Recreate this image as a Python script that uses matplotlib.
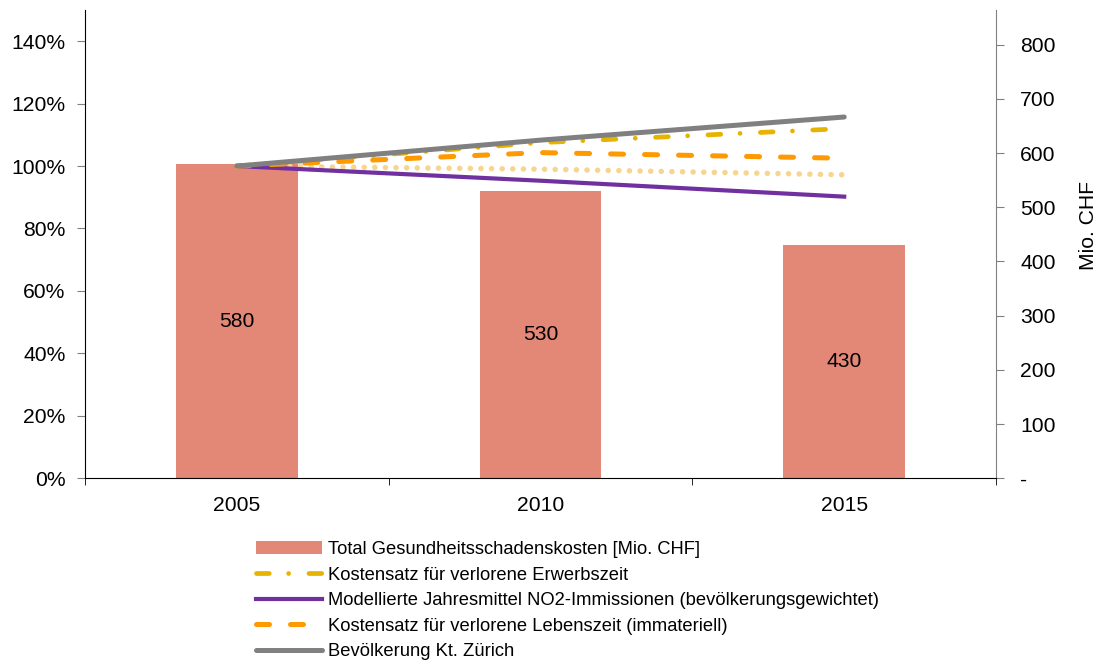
import matplotlib
matplotlib.use('Agg')
import matplotlib.pyplot as plt
import numpy as np
from matplotlib.ticker import FuncFormatter, FixedLocator

plt.rcParams['font.family'] = ['Liberation Sans', 'DejaVu Sans']

years = ['2005', '2010', '2015']
kosten = [580, 530, 430]  # Mio. CHF, rechte Achse

# Indexreihen (2005 = 100 %), linke Achse
erwerbszeit = [1.00, 1.075, 1.12]
no2 = [1.00, 0.953, 0.902]
lebenszeit = [1.00, 1.043, 1.025]
bevoelkerung = [1.00, 1.083, 1.157]
weitere = [1.00, 0.99, 0.972]

bar_label = 'Total Gesundheitsschadenskosten [Mio. CHF]'
line_labels = ['Kostensatz für verlorene Erwerbszeit',
               'Modellierte Jahresmittel NO2-Immissionen (bevölkerungsgewichtet)',
               'Kostensatz für verlorene Lebenszeit (immateriell)',
               'Bevölkerung Kt. Zürich']

x = np.arange(len(years))
fs = 15.2

fig = plt.figure(figsize=(11, 6.61), dpi=100)
ax = fig.add_axes([0.0773, 0.2764, 0.9055 - 0.0773, 0.985 - 0.2764])
ax2 = ax.twinx()

# Balken auf der rechten Achse, Linien darüber
bars = ax2.bar(x, kosten, 0.4, color='#E38777', label=bar_label)
ax2.bar_label(bars, label_type='center', fontsize=fs)
ax2.set_ylim(0, 864)
ax2.set_yticks(np.arange(0, 801, 100))
ax2.yaxis.set_major_formatter(FuncFormatter(lambda v, p: '-' if v == 0 else f'{v:.0f}'))
fig.text(1088 / 1100, 1 - 226 / 661, 'Mio. CHF', rotation=90, fontsize=fs,
         ha='center', va='center')
ax.set_zorder(ax2.get_zorder() + 1)
ax.patch.set_visible(False)

l1, = ax.plot(x, erwerbszeit, color='#E6B400', lw=3.4, dash_capstyle='round',
              dashes=(2.7, 4.1, 0.01, 4.3), label=line_labels[0])
ax.plot(x, weitere, color='#F7D591', lw=4.0, dash_capstyle='round',
        dashes=(0.01, 1.9), label='_nolegend_')
l2, = ax.plot(x, no2, color='#7030A0', lw=3.0, label=line_labels[1])
l3, = ax.plot(x, lebenszeit, color='#FF9900', lw=3.6, dash_capstyle='round',
              dashes=(2.6, 4.2), label=line_labels[2])
l4, = ax.plot(x, bevoelkerung, color='#808080', lw=3.6, solid_capstyle='round',
              label=line_labels[3])

ax.set_xlim(-0.5, 2.5)
ax.set_ylim(0, 1.5)
ax.set_yticks(np.arange(0, 1.41, 0.2))
ax.yaxis.set_major_formatter(FuncFormatter(lambda v, p: f'{v * 100:.0f}%'))
ax.set_xticks(x)
ax.set_xticklabels(years)
ax.xaxis.set_minor_locator(FixedLocator([-0.5, 0.5, 1.5, 2.5]))
ax.tick_params(axis='x', which='major', length=0, pad=13, labelsize=fs)
ax.tick_params(axis='x', which='minor', length=5, color='black', direction='out')
ax.tick_params(axis='y', length=6, color='#808080', labelsize=fs, pad=8)
ax2.tick_params(axis='y', length=5.5, color='#808080', labelsize=fs, pad=12)

for a in (ax, ax2):
    a.spines['top'].set_visible(False)
ax.spines['right'].set_visible(False)
ax2.spines['left'].set_visible(False)
ax2.spines['bottom'].set_visible(False)
ax2.spines['right'].set_color('#808080')
ax.spines['left'].set_color('black')
ax.spines['bottom'].set_color('black')

fig.legend([bars, l1, l2, l3, l4], [bar_label] + line_labels,
           loc='upper left', bbox_to_anchor=(0.233, 1 - 541 / 661),
           frameon=False, fontsize=13.2, handlelength=3.6, handletextpad=0.3,
           labelspacing=0.47, borderpad=0, borderaxespad=0)

fig.savefig('out.png', dpi=100)
